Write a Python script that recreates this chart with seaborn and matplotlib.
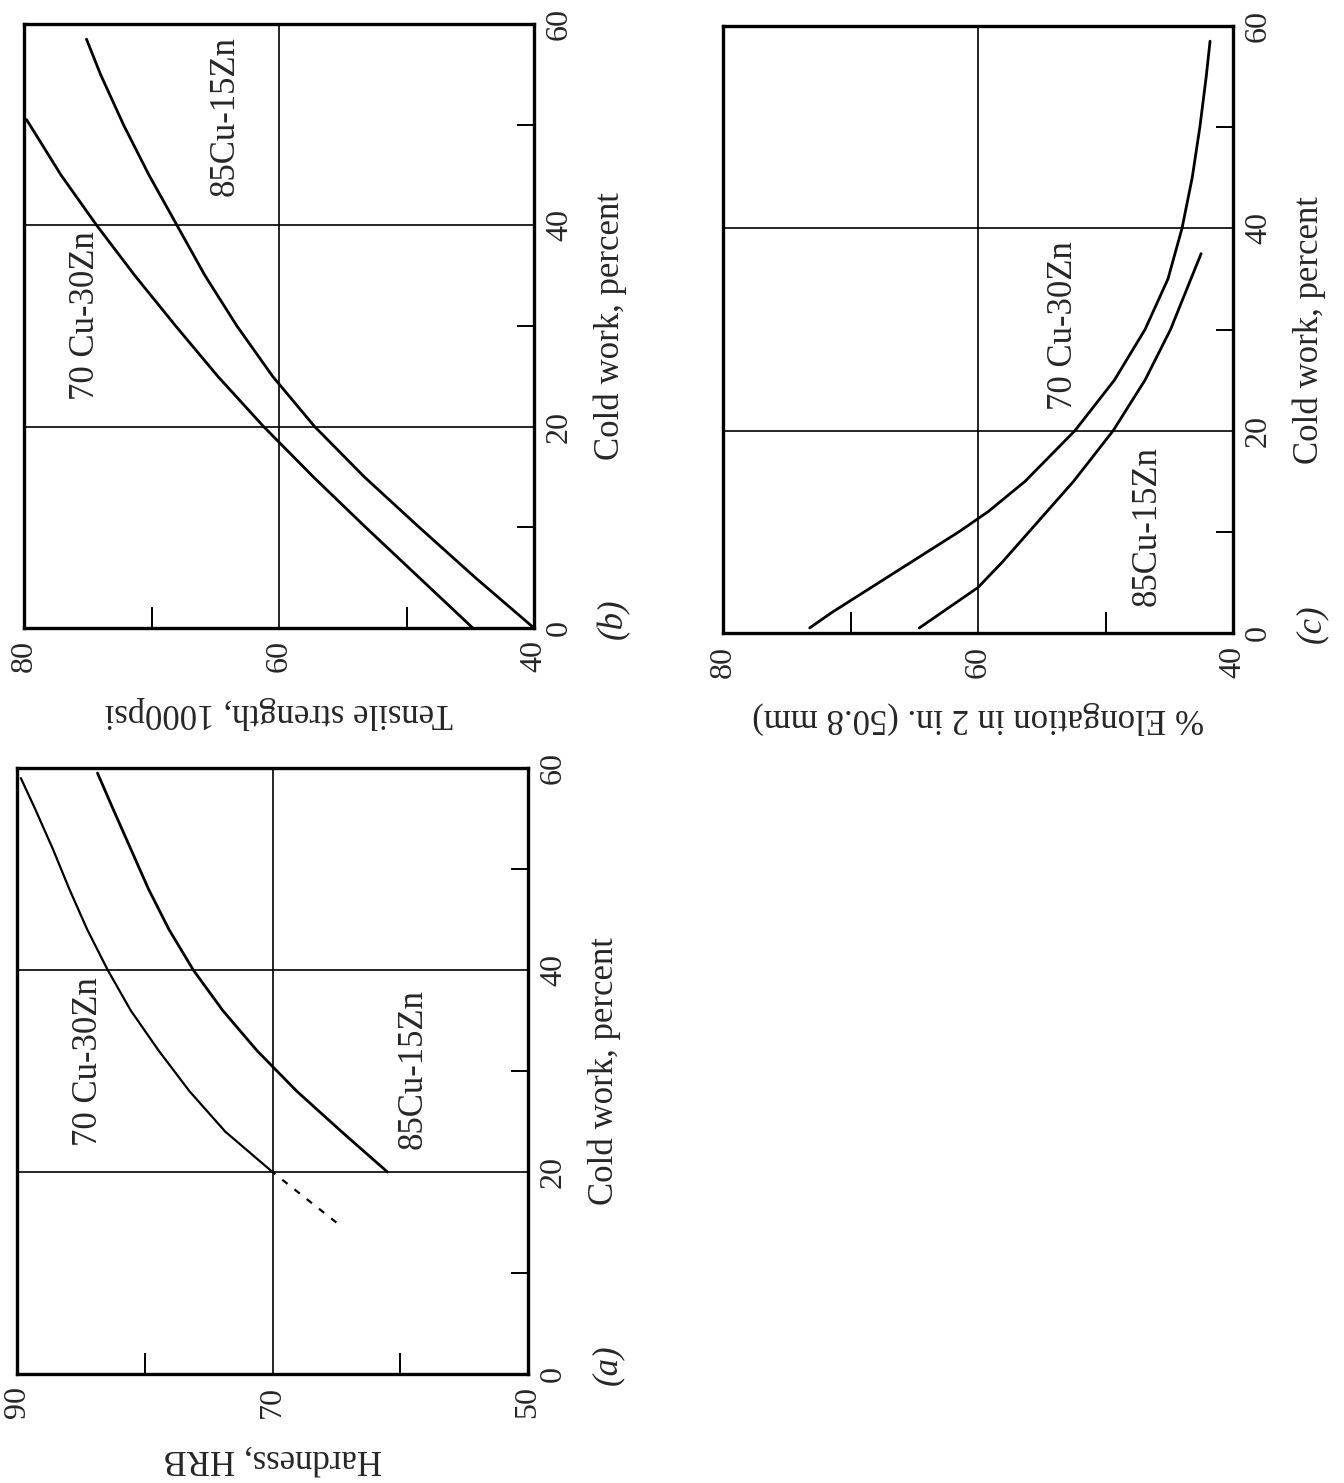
import matplotlib
matplotlib.use("Agg")
import matplotlib.pyplot as plt
from matplotlib.ticker import FixedLocator
import seaborn as sns

sns.set_style("white")
plt.rcParams['font.family'] = ['Liberation Serif', 'DejaVu Serif']

# ---------------- data ----------------
# (a) Hardness, HRB vs cold work
a_cw_70 = [20, 24, 28, 32, 36, 40, 44, 48, 52, 56, 59]
a_hrb_70 = [70.0, 73.7, 76.5, 78.9, 81.1, 82.9, 84.5, 85.9, 87.2, 88.6, 89.7]
a_cw_70_dash = [15, 16.5, 18, 20]
a_hrb_70_dash = [65.0, 66.5, 68.0, 70.0]
a_cw_85 = [20, 24, 28, 32, 36, 40, 44, 48, 52, 56, 59.5]
a_hrb_85 = [61.0, 64.6, 68.1, 71.2, 73.9, 76.2, 78.1, 79.7, 81.1, 82.5, 83.7]

# (b) Tensile strength, 1000 psi vs cold work
b_cw_70 = [0, 5, 10, 15, 20, 25, 30, 35, 40, 45, 50.5]
b_ts_70 = [44.8, 49.0, 53.2, 57.3, 61.2, 64.8, 68.1, 71.3, 74.3, 77.1, 79.8]
b_cw_85 = [0, 5, 10, 15, 20, 25, 30, 35, 40, 45, 50, 55, 58.5]
b_ts_85 = [40.0, 44.6, 49.0, 53.3, 57.2, 60.5, 63.3, 65.8, 68.0, 70.2, 72.2, 74.0, 75.1]

# (c) % Elongation vs cold work
c_cw_70 = [0.5, 2, 4, 6, 8, 10, 12, 15, 20, 25, 30, 35, 40, 45, 50, 55, 58.5]
c_el_70 = [73.2, 71.5, 69.0, 66.5, 64.0, 61.5, 59.2, 56.3, 52.4, 49.3, 46.9, 45.1, 44.0, 43.2, 42.6, 42.1, 41.8]
c_cw_85 = [0.5, 2.5, 4.5, 7, 10, 15, 20, 25, 30, 35, 37.5]
c_el_85 = [64.6, 62.3, 60.0, 58.1, 56.0, 52.5, 49.4, 46.9, 44.9, 43.3, 42.5]

cold_ticks = [0, 20, 40, 60]
cold_minor = [10, 30, 50]

LABEL_FS = 25
TICK_FS = 23
CURVE_LW = 2.0


def style_panel(ax, xlim, xticks, xminor, xlabel, letter):
    ax.set_xlim(*xlim)
    ax.set_ylim(0, 60)
    ax.set_xticks(xticks)
    ax.set_xticklabels([str(t) for t in xticks], rotation=90, fontsize=TICK_FS)
    ax.set_yticks(cold_ticks)
    ax.yaxis.tick_right()
    ax.set_yticklabels([str(t) for t in cold_ticks], rotation=90, fontsize=TICK_FS,
                       va='center')
    ax.tick_params(axis='x', which='major', length=0, pad=9)
    ax.tick_params(axis='y', which='major', length=0, pad=8)
    ax.xaxis.set_minor_locator(FixedLocator(xminor))
    ax.yaxis.set_minor_locator(FixedLocator(cold_minor))
    ax.tick_params(axis='x', which='minor', direction='in', length=15, width=1.4,
                   bottom=True, top=False, color='black')
    ax.tick_params(axis='y', which='minor', direction='in', length=12, width=1.4,
                   right=True, left=False, color='black')
    ax.grid(True, which='major', color='black', lw=1.2)
    for s in ax.spines.values():
        s.set_linewidth(2.4)
        s.set_color('black')
        s.set_zorder(5)
    ax.set_xlabel(xlabel, rotation=180, fontsize=LABEL_FS, va='center', ha='center')
    ax.xaxis.set_label_coords(0.5, -0.14)
    ax.yaxis.set_label_position('right')
    ax.set_ylabel('Cold work, percent', rotation=90, fontsize=LABEL_FS,
                  va='center', ha='center')
    ax.yaxis.set_label_coords(1.15, 0.5)
    ax.text(1.155, 0.015, letter, transform=ax.transAxes, rotation=90,
            fontsize=LABEL_FS, fontstyle='italic', ha='center', va='center')


fig = plt.figure(figsize=(13.44, 14.83), dpi=100)

# Panel (b)
ax_b = fig.add_axes([24 / 1344, 1 - 628 / 1483, 510 / 1344, 604 / 1483])
sns.lineplot(x=b_ts_70, y=b_cw_70, sort=False, estimator=None, color='black',
             lw=CURVE_LW, ax=ax_b)
sns.lineplot(x=b_ts_85, y=b_cw_85, sort=False, estimator=None, color='black',
             lw=CURVE_LW, ax=ax_b)
style_panel(ax_b, (80, 40), [80, 60, 40], [70, 50], 'Tensile strength, 1000psi', '(b)')
ax_b.text(75.2, 31, '70 Cu-30Zn', rotation=90, fontsize=LABEL_FS, ha='center', va='center')
ax_b.text(64.2, 50.9, '85Cu-15Zn', rotation=90, fontsize=LABEL_FS, ha='center', va='center')

# Panel (c)
ax_c = fig.add_axes([723 / 1344, 1 - 633 / 1483, 510 / 1344, 607 / 1483])
sns.lineplot(x=c_el_70, y=c_cw_70, sort=False, estimator=None, color='black',
             lw=CURVE_LW, ax=ax_c)
sns.lineplot(x=c_el_85, y=c_cw_85, sort=False, estimator=None, color='black',
             lw=CURVE_LW, ax=ax_c)
style_panel(ax_c, (80, 40), [80, 60, 40], [70, 50], '% Elongation in 2 in. (50.8 mm)', '(c)')
ax_c.text(53.3, 30.4, '70 Cu-30Zn', rotation=90, fontsize=LABEL_FS, ha='center', va='center')
ax_c.text(46.7, 10.6, '85Cu-15Zn', rotation=90, fontsize=LABEL_FS, ha='center', va='center')

# Panel (a)
ax_a = fig.add_axes([17 / 1344, 1 - 1374 / 1483, 511 / 1344, 606 / 1483])
sns.lineplot(x=a_hrb_70, y=a_cw_70, sort=False, estimator=None, color='black',
             lw=1.6, ax=ax_a)
sns.lineplot(x=a_hrb_70_dash, y=a_cw_70_dash, sort=False, estimator=None, color='black',
             lw=1.6, linestyle=(0, (3, 4)), ax=ax_a)
sns.lineplot(x=a_hrb_85, y=a_cw_85, sort=False, estimator=None, color='black',
             lw=CURVE_LW, ax=ax_a)
style_panel(ax_a, (90, 50), [90, 70, 50], [80, 60], 'Hardness, HRB', '(a)')
ax_a.text(84.4, 30.9, '70 Cu-30Zn', rotation=90, fontsize=LABEL_FS, ha='center', va='center')
ax_a.text(59.0, 30.2, '85Cu-15Zn', rotation=90, fontsize=LABEL_FS, ha='center', va='center')

fig.savefig('out.png', dpi=100)
